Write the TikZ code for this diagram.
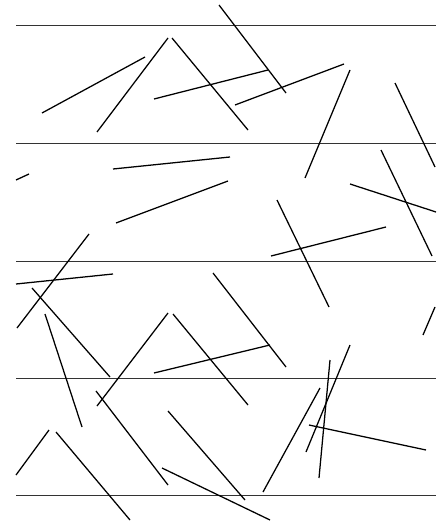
\documentclass[tikz,border=0pt]{standalone}
\usepackage{tikz}

\begin{document}
\begin{tikzpicture}[x=0.025cm, y=-0.025cm,
    rule/.style={draw=black!80, line width=0.7pt},
    needle/.style={draw=black, line width=0.9pt}]
    \useasboundingbox (0,0) rectangle (446,525);

    % Draw parallel lines
    \foreach \y in {25.7,143.3,261.5,378.4,495.8}
        \draw[rule] (16,\y) -- (436,\y);

    % Draw needles
    \foreach \xa/\ya/\xb/\yb in {
        42/113/145/57, 97/132/168/38, 172/38/248/130, 154/99/268/70,
        219/5/286/93, 235/105/344/64, 350/70/305/178, 395/83/435/167,
        381/150/432/256, 350/184/436/212, 277/200/329/307, 271/256/386/227,
        113/169/230/157, 16/180/29/174, 116/223/228/181, 89/234/17/328,
        16/284/113/274, 32/288/110/377, 45/314/82/427, 168/313/97/406,
        173/314/248/405, 213/273/286/367, 154/373/270/345, 435/307/423/335,
        350/345/306/452, 330/360/319/478, 320/388/263/492, 309/425/426/450,
        96/391/168/485, 168/411/245/500, 162/468/270/520, 49/430/16/475,
        56/432/130/520}
        \draw[needle] (\xa,\ya) -- (\xb,\yb);
\end{tikzpicture}
\end{document}
